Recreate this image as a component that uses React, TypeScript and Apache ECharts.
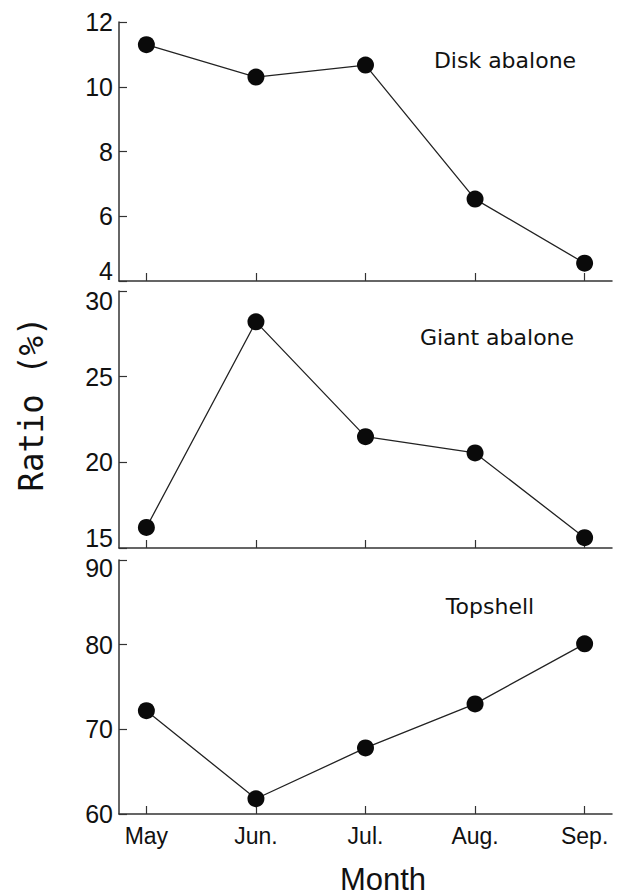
import React, { useEffect, useRef } from "react";
import * as echarts from "echarts";

// Months on the shared x axis
const months = ["May", "Jun.", "Jul.", "Aug.", "Sep."];

// Ratio (%) per species and month
const diskAbalone = [11.3, 10.3, 10.67, 6.53, 4.55];
const giantAbalone = [16.2, 28.2, 21.5, 20.55, 15.6];
const topshell = [72.2, 61.8, 67.8, 73.0, 80.1];

// Panel names and y scales
const panelNames = ["Disk abalone", "Giant abalone", "Topshell"];
const yMins = [4, 15, 60];
const yMaxs = [12, 30, 90];
const yIntervals = [2, 5, 10];

const monthIdx = months.map((_, i) => i);

const AXIS_COLOR = "#333";
const TEXT_COLOR = "#111";

export default function App() {
  const ref = useRef<HTMLDivElement>(null);

  useEffect(() => {
    if (!ref.current) return;
    const chart = echarts.init(ref.current, null, { renderer: "svg" });

    const seriesData = [diskAbalone, giantAbalone, topshell];

    const grids = [
      { left: 119, right: 12, top: 22, height: 259 },
      { left: 119, right: 12, top: 291, height: 257 },
      { left: 119, right: 12, top: 560, height: 254 },
    ];

    const xAxes = grids.map((_, i) => ({
      type: "value",
      gridIndex: i,
      min: -0.25,
      max: 4.25,
      axisLine: { show: true, onZero: false, lineStyle: { color: AXIS_COLOR, width: 1.5 } },
      axisTick: {
        show: true,
        inside: true,
        length: 8,
        customValues: monthIdx,
        lineStyle: { color: AXIS_COLOR, width: 1.2 },
      },
      splitLine: { show: false },
      axisLabel: {
        show: i === 2,
        customValues: monthIdx,
        formatter: (v: number) => months[Math.round(v)] ?? "",
        fontFamily: "Liberation Sans, Arial, sans-serif",
        fontSize: 23,
        color: TEXT_COLOR,
        margin: 10,
      },
    }));

    // Edge labels are tucked inside each panel so neighbouring panels don't collide
    const yLineHeights = [20, 20, 16];
    const yAxes = grids.map((_, i) => ({
      type: "value",
      gridIndex: i,
      min: yMins[i],
      max: yMaxs[i],
      interval: yIntervals[i],
      axisLine: { show: true, onZero: false, lineStyle: { color: AXIS_COLOR, width: 1.5 } },
      axisTick: {
        show: true,
        inside: true,
        length: 8,
        lineStyle: { color: AXIS_COLOR, width: 1.2 },
      },
      splitLine: { show: false },
      axisLabel: {
        fontFamily: "Liberation Sans, Arial, sans-serif",
        fontSize: 25,
        lineHeight: yLineHeights[i],
        color: TEXT_COLOR,
        margin: 6,
        verticalAlignMinLabel: i < 2 ? "bottom" : "middle",
        verticalAlignMaxLabel: i > 0 ? "top" : "middle",
      },
    }));

    const series = seriesData.map((vals, i) => ({
      type: "line",
      name: panelNames[i],
      xAxisIndex: i,
      yAxisIndex: i,
      data: vals.map((v, k) => [monthIdx[k], v]),
      symbol: "circle",
      symbolSize: 17,
      itemStyle: { color: "#0a0a0a" },
      lineStyle: { color: "#222", width: 1.3 },
      z: 3,
    }));

    const panelLabelPos = [
      { x: 505, y: 60 },
      { x: 497, y: 337 },
      { x: 490, y: 606 },
    ];

    const graphic: any[] = panelNames.map((name, i) => ({
      type: "text",
      x: panelLabelPos[i].x,
      y: panelLabelPos[i].y,
      style: {
        text: name,
        fontFamily: "DejaVu Sans, sans-serif",
        fontSize: 22,
        fill: TEXT_COLOR,
        textAlign: "center",
        textVerticalAlign: "middle",
      },
    }));

    graphic.push({
      type: "text",
      x: 383,
      y: 879,
      style: {
        text: "Month",
        fontFamily: "Liberation Sans, Arial, sans-serif",
        fontSize: 31,
        fill: TEXT_COLOR,
        textAlign: "center",
        textVerticalAlign: "middle",
      },
    });

    graphic.push({
      type: "text",
      x: 31,
      y: 404,
      rotation: Math.PI / 2,
      scaleX: 0.95,
      style: {
        text: "Ratio (%)",
        fontFamily: "DejaVu Sans Mono, monospace",
        fontSize: 34,
        fill: TEXT_COLOR,
        textAlign: "center",
        textVerticalAlign: "middle",
      },
    });

    chart.setOption({
      animation: false,
      backgroundColor: "#ffffff",
      grid: grids,
      xAxis: xAxes,
      yAxis: yAxes,
      series,
      graphic,
    });

    return () => chart.dispose();
  }, []);

  return (
    <div
      ref={ref}
      style={{ position: "absolute", left: 0, top: 0, width: 624, height: 896 }}
    />
  );
}
